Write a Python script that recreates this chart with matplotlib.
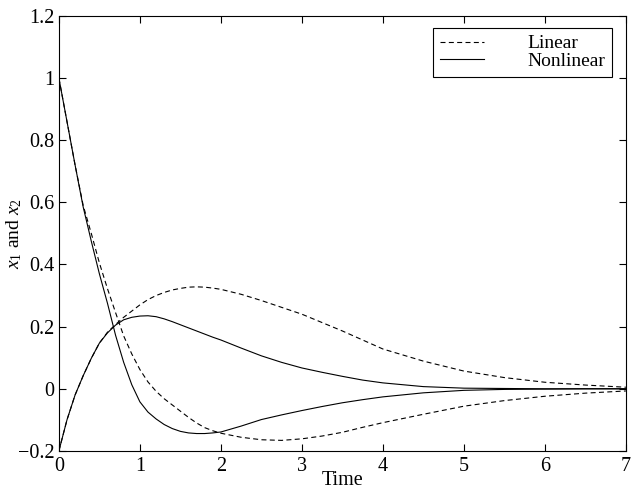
import numpy as np
import matplotlib.pyplot as plt

plt.rcParams['font.family'] = ['Liberation Serif', 'DejaVu Serif']
plt.rcParams['mathtext.fontset'] = 'custom'
plt.rcParams['mathtext.rm'] = 'Liberation Serif'
plt.rcParams['mathtext.it'] = 'Liberation Serif:italic'
plt.rcParams['font.size'] = 14.5

# 時刻
t = [0, 0.1, 0.2, 0.3, 0.4, 0.5, 0.6, 0.7, 0.8, 0.9, 1.0, 1.1, 1.2, 1.3,
     1.4, 1.5, 1.6, 1.7, 1.8, 1.9, 2.0, 2.25, 2.5, 2.75, 3.0, 3.25, 3.5,
     3.75, 4.0, 4.5, 5.0, 5.5, 6.0, 6.5, 7.0]

# 線形モデル
lin_x1 = [1.0, 0.86, 0.72, 0.59, 0.5, 0.405, 0.322, 0.245, 0.17, 0.112,
          0.062, 0.022, -0.008, -0.032, -0.052, -0.072, -0.092, -0.11,
          -0.125, -0.135, -0.143, -0.156, -0.164, -0.166, -0.161, -0.152,
          -0.14, -0.124, -0.109, -0.082, -0.056, -0.038, -0.024, -0.014,
          -0.007]
lin_x2 = [-0.2, -0.1, -0.02, 0.042, 0.098, 0.147, 0.182, 0.207, 0.23,
          0.25, 0.27, 0.287, 0.3, 0.31, 0.318, 0.323, 0.327, 0.328, 0.327,
          0.324, 0.32, 0.304, 0.284, 0.262, 0.24, 0.213, 0.186, 0.157,
          0.128, 0.089, 0.057, 0.036, 0.021, 0.012, 0.005]

# 非線形モデル
nl_x1 = [1.0, 0.86, 0.72, 0.585, 0.475, 0.37, 0.275, 0.172, 0.085, 0.013,
         -0.042, -0.075, -0.097, -0.115, -0.128, -0.137, -0.142, -0.144,
         -0.144, -0.142, -0.139, -0.12, -0.099, -0.084, -0.07, -0.057,
         -0.045, -0.035, -0.026, -0.013, -0.005, -0.002, -0.001, 0.0, 0.0]
nl_x2 = [-0.2, -0.1, -0.02, 0.042, 0.098, 0.147, 0.18, 0.205, 0.222,
         0.23, 0.234, 0.235, 0.232, 0.225, 0.216, 0.206, 0.196, 0.186,
         0.176, 0.166, 0.157, 0.131, 0.106, 0.085, 0.067, 0.053, 0.04,
         0.028, 0.019, 0.007, 0.002, 0.001, 0.0, 0.0, 0.0]

xticks = [0, 1, 2, 3, 4, 5, 6, 7]
yticks = [-0.2, 0, 0.2, 0.4, 0.6, 0.8, 1, 1.2]
yticklabels = ['\u22120.2', '0', '0.2', '0.4', '0.6', '0.8', '1', '1.2']

fig = plt.figure(figsize=(6.4, 4.95), dpi=100)
ax = fig.add_axes([0.092, 0.089, 0.886, 0.879])

dash = (4.5, 3)
l1, = ax.plot(t, lin_x1, color='black', lw=0.8, dashes=dash)
ax.plot(t, lin_x2, color='black', lw=0.8, dashes=dash)
l2, = ax.plot(t, nl_x1, color='black', lw=0.8)
ax.plot(t, nl_x2, color='black', lw=0.8)

ax.set_xlim(0, 7)
ax.set_ylim(-0.2, 1.2)
ax.set_xticks(xticks)
ax.set_yticks(yticks)
ax.set_yticklabels(yticklabels)
ax.tick_params(direction='in', top=True, right=True, length=5, width=0.8)
ax.tick_params(axis='y', pad=3)
ax.tick_params(axis='x', pad=4)
for s in ax.spines.values():
    s.set_linewidth(0.8)

ax.set_xlabel('Time', labelpad=-3)
ax.set_ylabel(r'$\mathit{x_1}$ and $\mathit{x_2}$', labelpad=-4, fontsize=14)

leg = ax.legend([l1, l2], ['Linear', 'Nonlinear'], loc='upper right',
                bbox_to_anchor=(0.975, 0.972), frameon=True, fancybox=False,
                edgecolor='black', framealpha=1, handlelength=2.3,
                handletextpad=2.2, borderpad=0.35, labelspacing=0.0,
                borderaxespad=0, fontsize=14)
leg.get_frame().set_linewidth(0.8)

fig.savefig('out.png', dpi=100)
